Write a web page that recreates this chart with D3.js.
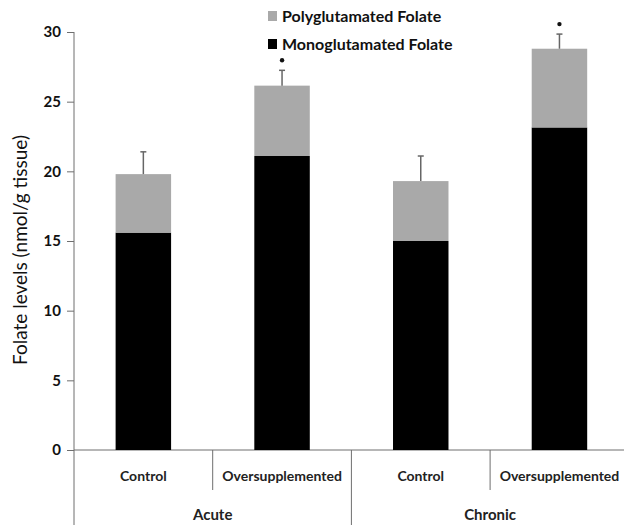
<!DOCTYPE html>
<html><head><meta charset="utf-8">
<script src="https://cdn.jsdelivr.net/npm/d3@7"></script>
<style>body{margin:0;background:#fff}svg{display:block}text{font-family:Lato,"Open Sans",sans-serif}</style>
</head><body><svg id="c" width="624" height="525"></svg>
<script>
const groups = ["Acute", "Acute", "Chronic", "Chronic"];
const treatments = ["Control", "Oversupplemented", "Control", "Oversupplemented"];
const mono = [15.6, 21.1, 15.0, 23.15];
const poly = [4.2, 5.05, 4.3, 5.65];
const errUpper = [1.6, 1.1, 1.8, 1.05];
const significant = [false, true, false, true];
const groupNames = ["Acute", "Chronic"];
const yTicks = [0, 5, 10, 15, 20, 25, 30];
const seriesNames = ["Polyglutamated Folate", "Monoglutamated Folate"];
const seriesColors = ["#a9a9a9", "#000000"];

const svg = d3.select("#c");
const x0 = 74, baseY = 450, topY = 32;
const band = 138.7;
const x = d3.scaleBand().domain(d3.range(4)).range([x0, x0 + band * 4]).paddingInner(0.6).paddingOuter(0.3);
const y = d3.scaleLinear().domain([0, 30]).range([baseY, topY]);
const axisColor = "#6e6e6e";

// Y axis
const yAxis = d3.axisLeft(y).tickValues(yTicks).tickSize(7).tickPadding(6);
const gy = svg.append("g").attr("transform", `translate(${x0},0)`).call(yAxis);
gy.select(".domain").remove();
gy.selectAll(".tick line").attr("stroke", axisColor);
gy.selectAll(".tick text").attr("font-size", 15).attr("font-weight", "bold").attr("fill", "#111");
svg.append("line").attr("x1", x0).attr("x2", x0).attr("y1", topY).attr("y2", 525).attr("stroke", axisColor);
// baseline
svg.append("line").attr("x1", x0).attr("x2", 624).attr("y1", baseY).attr("y2", baseY).attr("stroke", axisColor);

// Bars
const bars = svg.append("g");
d3.range(4).forEach(i => {
  bars.append("rect").attr("x", x(i)).attr("width", x.bandwidth())
    .attr("y", y(mono[i])).attr("height", y(0) - y(mono[i])).attr("fill", seriesColors[1]);
  const tot = mono[i] + poly[i];
  bars.append("rect").attr("x", x(i)).attr("width", x.bandwidth())
    .attr("y", y(tot)).attr("height", y(mono[i]) - y(tot)).attr("fill", seriesColors[0]);
  const cx = x(i) + x.bandwidth() / 2;
  bars.append("line").attr("x1", cx).attr("x2", cx).attr("y1", y(tot)).attr("y2", y(tot + errUpper[i]))
    .attr("stroke", "#666").attr("stroke-width", 1.5);
  bars.append("line").attr("x1", cx - 3).attr("x2", cx + 3).attr("y1", y(tot + errUpper[i])).attr("y2", y(tot + errUpper[i]))
    .attr("stroke", "#666").attr("stroke-width", 1.5);
  if (significant[i]) {
    bars.append("circle").attr("cx", cx).attr("cy", y(tot + errUpper[i]) - 10).attr("r", 2.2).attr("fill", "#111");
  }
  svg.append("text").attr("x", cx).attr("y", 481).attr("text-anchor", "middle")
    .attr("font-size", 14).attr("font-weight", "bold").attr("fill", "#222").text(treatments[i]);
});

// separators
const bandStart = i => x0 + band * i;
[1, 3].forEach(i => svg.append("line").attr("x1", bandStart(i)).attr("x2", bandStart(i)).attr("y1", baseY).attr("y2", 490).attr("stroke", axisColor));
svg.append("line").attr("x1", bandStart(2)).attr("x2", bandStart(2)).attr("y1", baseY).attr("y2", 525).attr("stroke", axisColor);
groupNames.forEach((g, j) => {
  svg.append("text").attr("x", bandStart(2 * j + 1)).attr("y", 520).attr("text-anchor", "middle")
    .attr("font-size", 15).attr("font-weight", "bold").attr("fill", "#222").text(g);
});

// Y title
svg.append("text").attr("transform", `translate(27,250) rotate(-90)`)
  .attr("text-anchor", "middle").attr("font-size", 19).attr("fill", "#111").text("Folate levels (nmol/g tissue)");

// Legend
seriesNames.forEach((s, k) => {
  const ly = 16 + k * 28;
  svg.append("rect").attr("x", 268).attr("y", ly - 5).attr("width", 9).attr("height", 10).attr("fill", seriesColors[k]);
  svg.append("text").attr("x", 282).attr("y", ly + 6).attr("font-size", 16).attr("font-weight", "bold").attr("fill", "#111").text(s);
});
</script></body></html>
